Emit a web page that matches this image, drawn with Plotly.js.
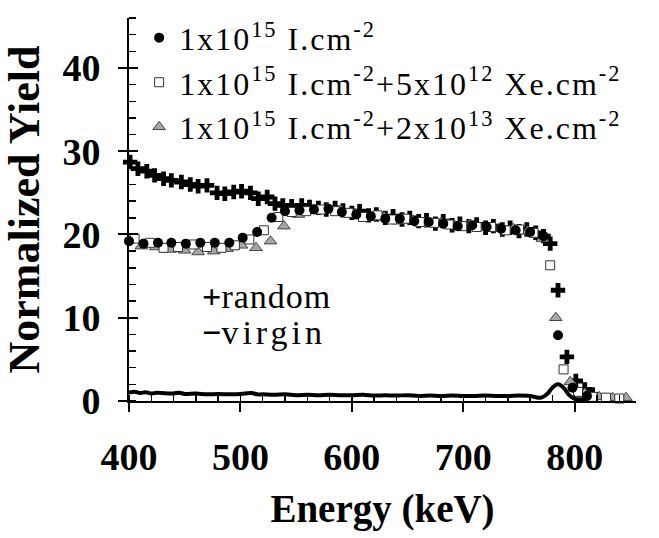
<!DOCTYPE html>
<html>
<head>
<meta charset="utf-8">
<script src="https://cdn.plot.ly/plotly-3.0.1.min.js"></script>
<style>
html,body{margin:0;padding:0;background:#fff;}
#chart{width:659px;height:538px;}
</style>
</head>
<body>
<div id="chart"></div>
<script>
// Random spectrum (+)
const randomE = [401,408,416,423,431,438,447,455,462,470,479,486,494,501,509,516,524,531,538,546,555,562,570,577,585,592,600,607,615,622,630,637,645,652,660,667,675,682,690,697,705,712,720,727,735,742,750,757,765,772,778,785,793,801,809,816];
const randomY = [28.7,27.9,27.6,27.1,26.7,26.5,26.3,26.0,25.8,25.9,25.0,24.9,25.1,25.2,25.0,24.3,24.5,23.7,23.5,23.4,23.5,23.3,23.2,23.0,23.2,22.9,22.6,22.8,22.3,22.4,22.0,22.2,21.8,22.0,21.6,21.7,21.3,21.6,21.1,21.3,21.0,21.2,20.8,21.0,20.6,20.8,20.4,20.6,20.2,19.8,18.9,13.3,5.3,2.4,1.4,0.8];

// 1x10^15 I.cm^-2 (filled circles)
const iE = [400,413,426,438,451,464,477,490,502,515,528,540,553,566,579,591,604,617,630,643,656,669,682,695,708,721,734,747,760,772,785,798,811];
const iY = [19.2,18.9,19.0,19.0,18.9,19.0,19.0,19.0,19.6,20.3,22.0,22.8,22.9,23.0,23.1,22.7,22.4,22.2,21.9,21.9,21.6,21.5,21.3,21.0,21.1,20.9,20.7,20.5,20.3,19.8,7.9,1.6,0.6];

// 1x10^15 I.cm^-2 + 5x10^12 Xe.cm^-2 (open squares)
const xe5E = [405,419,431,444,458,470,483,495,508,521,534,546,559,572,585,597,610,623,636,648,661,674,687,699,712,725,738,750,763,778,790,803,816,828,840];
const xe5Y = [19.5,19.0,18.4,18.5,18.8,18.5,18.4,18.7,19.4,20.5,22.1,22.7,22.8,23.0,22.8,22.6,22.1,22.3,21.8,21.9,21.5,21.4,21.2,21.0,20.9,20.9,20.5,20.6,20.2,16.3,3.8,1.1,0.5,0.4,0.3];

// 1x10^15 I.cm^-2 + 2x10^13 Xe.cm^-2 (grey triangles)
const xe2E = [411,424,437,450,462,476,488,501,514,527,539,552,565,578,590,603,616,629,642,655,668,680,693,706,719,732,745,758,771,783,796,809,822,834,846];
const xe2Y = [18.6,18.5,18.2,18.1,17.9,18.0,18.3,18.7,18.4,19.2,21.0,22.4,22.9,23.1,22.9,22.5,22.0,22.1,21.6,21.7,21.3,21.4,21.0,21.2,20.8,20.7,20.7,20.4,19.5,10.0,2.3,0.9,0.5,0.4,0.4];

// Virgin spectrum (line)
const virginE = [400,405,410,415,420,425,430,440,445,450,460,470,480,490,500,510,515,520,530,540,550,560,570,580,590,600,610,620,630,640,650,660,670,680,690,700,710,720,730,740,750,760,765,770,775,780,785,790,795,800,805,810];
const virginY = [1.0,1.1,0.95,1.05,0.9,1.0,0.95,0.9,1.0,0.85,0.9,0.8,0.85,0.8,0.85,0.95,0.8,0.8,0.75,0.8,0.7,0.75,0.7,0.75,0.7,0.7,0.75,0.65,0.7,0.65,0.7,0.6,0.65,0.6,0.65,0.6,0.6,0.65,0.6,0.6,0.65,0.6,0.45,0.4,0.8,1.6,2.0,1.6,0.7,0.25,0.2,0.15];

const legendNames = [
  "1x10<sup>15</sup> I.cm<sup>-2</sup>",
  "1x10<sup>15</sup> I.cm<sup>-2</sup>+5x10<sup>12</sup> Xe.cm<sup>-2</sup>",
  "1x10<sup>15</sup> I.cm<sup>-2</sup>+2x10<sup>13</sup> Xe.cm<sup>-2</sup>"
];
const spaced = s => "<span style=\"letter-spacing:2px\">" + s + "</span>";
const labelRandom = "<b>+</b><span style=\"letter-spacing:1px\">random</span>";
const labelVirgin = "<b>\u2212</b><span style=\"letter-spacing:4px\">virgin</span>";

const serif = "Liberation Serif, Times New Roman, serif";

const traces = [
  {x: virginE, y: virginY, mode: "lines", line: {color: "#000", width: 4, shape: "spline"}, showlegend: false, hoverinfo: "skip"},
  {x: randomE, y: randomY, mode: "markers", marker: {symbol: "cross", size: 12, color: "#000"}, showlegend: false, cliponaxis: false},
  {x: xe2E, y: xe2Y, mode: "markers", name: spaced(legendNames[2]), marker: {symbol: "triangle-up", size: 11, color: "#a6a6a6", line: {color: "#444", width: 1}}, cliponaxis: false},
  {x: xe5E, y: xe5Y, mode: "markers", name: spaced(legendNames[1]), marker: {symbol: "square", size: 9, color: "#fff", line: {color: "#333", width: 1}}, cliponaxis: false},
  {x: iE, y: iY, mode: "markers", name: spaced(legendNames[0]), marker: {symbol: "circle", size: 10, color: "#000"}, cliponaxis: false}
];

const tickFont = {family: serif, size: 38, color: "#000", weight: "bold"};

const layout = {
  width: 659, height: 538,
  margin: {l: 129, r: 23, t: 18, b: 137, autoexpand: false},
  paper_bgcolor: "#fff", plot_bgcolor: "#fff",
  font: {family: serif, color: "#000"},
  showlegend: true,
  legend: {
    x: 0.02, y: 1.02, xanchor: "left", yanchor: "top",
    bgcolor: "rgba(0,0,0,0)", traceorder: "reversed",
    font: {family: serif, size: 32, color: "#000"},
    itemwidth: 30, tracegroupgap: 0
  },
  xaxis: {
    range: [400, 855], showgrid: false, zeroline: false,
    showline: true, linecolor: "#000", linewidth: 2,
    tickvals: [400, 500, 600, 700, 800], ticks: "outside", ticklen: 9, tickwidth: 2, tickcolor: "#000",
    minor: {dtick: 20, tick0: 400, ticks: "inside", ticklen: 6, tickwidth: 1.5, tickcolor: "#000"},
    tickfont: tickFont, ticklabelstandoff: 12,
    title: {text: "<b>Energy (keV)</b>", font: {family: serif, size: 39, color: "#000"}, standoff: 18}
  },
  yaxis: {
    range: [0, 46], showgrid: false, zeroline: false,
    showline: true, linecolor: "#000", linewidth: 2,
    tickvals: [0, 10, 20, 30, 40], ticks: "outside", ticklen: 9, tickwidth: 2, tickcolor: "#000",
    minor: {dtick: 2, tick0: 0, ticks: "inside", ticklen: 7, tickwidth: 1.5, tickcolor: "#000"},
    tickfont: tickFont, ticklabelstandoff: 10,
    title: {text: "<b>Normalized Yield</b>", font: {family: serif, size: 44, color: "#000"}, standoff: 10}
  },
  yaxis2: {
    overlaying: "y", side: "left", range: [0, 46], showgrid: false, zeroline: false,
    showline: false, showticklabels: false,
    tickvals: [0, 10, 20, 30, 40], ticks: "inside", ticklen: 9, tickwidth: 2, tickcolor: "#000"
  },
  annotations: [
    {xref: "x", yref: "y", x: 464, y: 12.5, text: labelRandom, showarrow: false, xanchor: "left", yanchor: "middle", font: {family: serif, size: 34, color: "#000"}},
    {xref: "x", yref: "y", x: 464, y: 8.2, text: labelVirgin, showarrow: false, xanchor: "left", yanchor: "middle", font: {family: serif, size: 34, color: "#000"}}
  ]
};

// invisible anchor trace so the overlaid yaxis2 (crossing major ticks) renders
traces.push({x: [400], y: [0], yaxis: "y2", mode: "markers", marker: {opacity: 0}, showlegend: false, hoverinfo: "skip"});

Plotly.newPlot("chart", traces, layout, {displayModeBar: false, staticPlot: true});
</script>
</body>
</html>
